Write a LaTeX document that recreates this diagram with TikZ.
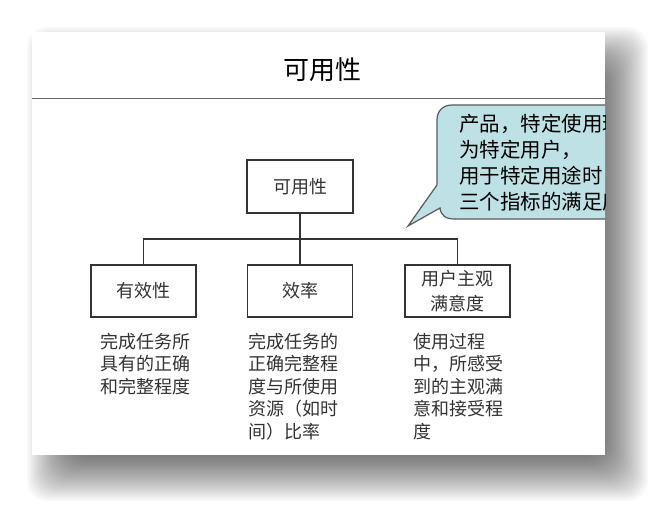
\documentclass[tikz,border=0pt]{standalone}
\usepackage{fontspec}
\setmainfont{Noto Sans CJK SC}
\usepackage{xcolor}
\usetikzlibrary{calc}
\definecolor{bubblefill}{RGB}{190,225,230}
\tikzset{
  unitbox/.style={draw=black!80, line width=1.2pt, minimum width=105pt, minimum height=52pt,
    inner sep=0pt, text=black!80, align=center, font=\fontsize{18pt}{25pt}\selectfont},
  desc/.style={anchor=north west, inner sep=0pt, align=left, text=black!80,
    font=\fontsize{18pt}{22.5pt}\selectfont},
  link/.style={draw=black!80, line width=1.2pt}
}

\begin{document}
\begin{tikzpicture}[x=1pt, y=-1pt]
\useasboundingbox (0,0) rectangle (669,520);
\fill[white] (0,0) rectangle (669,520);
% slide shadow
\foreach \i in {1,...,25} {
  \fill[black, opacity=.027, rounded corners=20pt] (25+2*\i,25+2*\i) rectangle (650-2*\i,503-2*\i);
}
\fill[white] (32,32) rectangle (605,455);
\draw[black!60, line width=1.5pt] (32,98.5)--(605,98.5);
\node[font=\fontsize{26pt}{30pt}\selectfont] (title) at (322,69.5) {可用性};

% tree
\node[unitbox, minimum width=106pt, minimum height=53pt] (use) at (300,186.5) {可用性};
\node[unitbox] (eff) at (143.5,291) {有效性};
\node[unitbox] (rate) at (300,291) {效率};
\node[unitbox] (sat) at (457.5,291) {用户主观\\满意度};
\coordinate (bar) at (300,239);
\draw[link] (use)--(rate);
\draw[link] (eff) |- (bar) -| (sat);

\node[desc] (effnote) at (100,333) {完成任务所\\具有的正确\\和完整程度};
\node[desc] (ratenote) at (248,333) {完成任务的\\正确完整程\\度与所使用\\资源（如时\\间）比率};
\node[desc] (satnote) at (413,333) {使用过程\\中，所感受\\到的主观满\\意和接受程\\度};

% callout, cut at the slide edge
\begin{scope}
\clip (32,32) rectangle (605,455);
\filldraw[fill=bubblefill, draw=black!65, line width=1.2pt] (720,105)--(452,105)
  .. controls (443,105) and (437,111) .. (437,120)--(437,185)--(408,226)--(440,208)
  .. controls (441,216) and (446,219) .. (455,219)--(720,219)--cycle;
\node[anchor=north west, inner sep=0pt, align=left, font=\fontsize{20.5pt}{26pt}\selectfont]
  (note) at (459,114) {产品，特定使用环\\为特定用户，\\用于特定用途时\\三个指标的满足度};
\end{scope}
\end{tikzpicture}
\end{document}
